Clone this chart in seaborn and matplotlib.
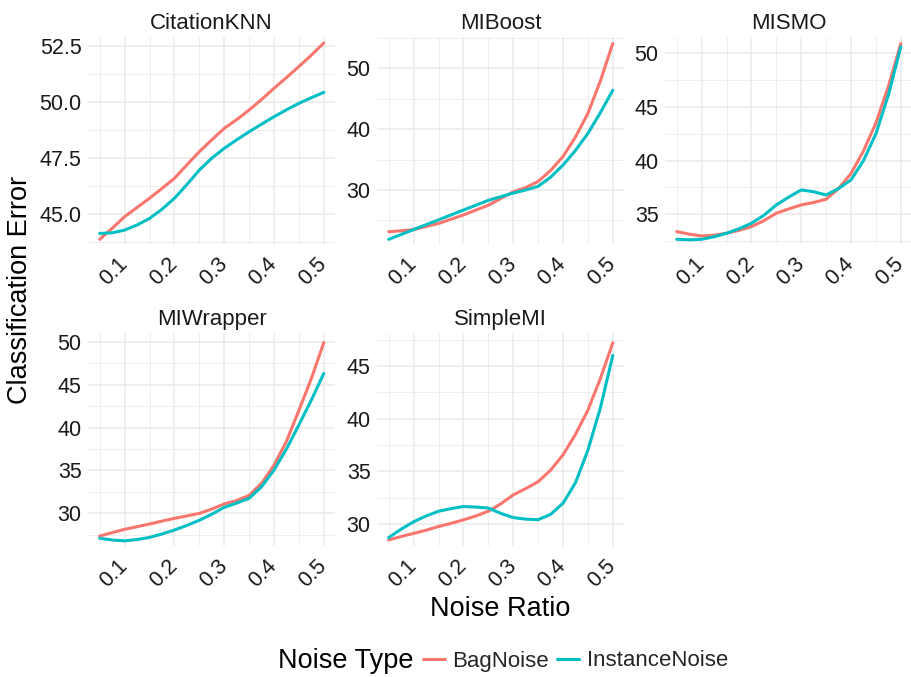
import numpy as np
import pandas as pd
import matplotlib
matplotlib.use("Agg")
import matplotlib.pyplot as plt
from matplotlib.lines import Line2D
from matplotlib.ticker import FixedLocator, FormatStrFormatter
import seaborn as sns

# ---------------- data ----------------
noise_ratio = [0.05, 0.075, 0.1, 0.125, 0.15, 0.175, 0.2, 0.225, 0.25, 0.275,
               0.3, 0.325, 0.35, 0.375, 0.4, 0.425, 0.45, 0.475, 0.5]

citationknn_bag = [43.86, 44.35, 44.87, 45.28, 45.69, 46.13, 46.58, 47.18, 47.77, 48.30,
                   48.81, 49.20, 49.63, 50.10, 50.60, 51.08, 51.57, 52.08, 52.62]
citationknn_inst = [44.12, 44.15, 44.27, 44.50, 44.79, 45.20, 45.69, 46.30, 46.95, 47.48,
                    47.92, 48.30, 48.66, 49.00, 49.33, 49.64, 49.93, 50.18, 50.42]

miboost_bag = [23.15, 23.3, 23.5, 24.0, 24.5, 25.2, 25.9, 26.7, 27.5, 28.6,
               29.7, 30.4, 31.4, 33.2, 35.5, 38.7, 42.6, 47.9, 54.1]
miboost_inst = [21.9, 22.7, 23.5, 24.3, 25.1, 25.9, 26.7, 27.5, 28.3, 28.9,
                29.5, 30.0, 30.6, 32.1, 34.1, 36.5, 39.3, 42.7, 46.4]

mismo_bag = [33.39, 33.15, 32.98, 33.05, 33.23, 33.5, 33.85, 34.4, 35.1, 35.5,
             35.87, 36.1, 36.4, 37.4, 38.8, 40.9, 43.5, 46.9, 50.9]
mismo_inst = [32.67, 32.62, 32.67, 32.9, 33.23, 33.65, 34.16, 34.9, 35.87, 36.6,
              37.27, 37.1, 36.8, 37.4, 38.2, 40.0, 42.5, 46.1, 50.6]

miwrapper_bag = [27.36, 27.76, 28.14, 28.45, 28.76, 29.1, 29.42, 29.7, 30.0, 30.5,
                 31.1, 31.5, 32.1, 33.5, 35.6, 38.4, 42.0, 45.7, 49.9]
miwrapper_inst = [27.1, 26.9, 26.8, 26.95, 27.2, 27.6, 28.06, 28.6, 29.2, 29.9,
                  30.7, 31.2, 31.75, 33.1, 35.05, 37.5, 40.3, 43.2, 46.3]

simplemi_bag = [28.48, 28.8, 29.1, 29.4, 29.75, 30.05, 30.38, 30.75, 31.2, 31.9,
                32.75, 33.35, 34.0, 35.1, 36.55, 38.5, 40.8, 43.8, 47.2]
simplemi_inst = [28.7, 29.5, 30.2, 30.75, 31.2, 31.45, 31.65, 31.6, 31.5, 31.0,
                 30.6, 30.45, 30.4, 30.9, 31.96, 33.9, 37.0, 41.0, 46.0]

classifiers = ["CitationKNN", "MIBoost", "MISMO", "MIWrapper", "SimpleMI"]
noise_types = ["BagNoise", "InstanceNoise"]
series = {
    "CitationKNN": (citationknn_bag, citationknn_inst),
    "MIBoost": (miboost_bag, miboost_inst),
    "MISMO": (mismo_bag, mismo_inst),
    "MIWrapper": (miwrapper_bag, miwrapper_inst),
    "SimpleMI": (simplemi_bag, simplemi_inst),
}
x_ticks = [0.1, 0.2, 0.3, 0.4, 0.5]
x_tick_labels = ["0.1", "0.2", "0.3", "0.4", "0.5"]

rows = []
for clf in classifiers:
    for nt, vals in zip(noise_types, series[clf]):
        for r, v in zip(noise_ratio, vals):
            rows.append({"Classifier": clf, "Noise Type": nt, "Noise Ratio": r,
                         "Classification Error": v})
df = pd.DataFrame(rows)

# ---------------- styling ----------------
sns.set_theme(style="white")
plt.rcParams["font.family"] = ["Liberation Sans", "DejaVu Sans"]
palette = {"BagNoise": "#F8766D", "InstanceNoise": "#00BFC4"}

W, H = 912, 677
fig = plt.figure(figsize=(W / 100, H / 100), dpi=100)
fig.patch.set_facecolor("white")

# panel boxes in pixels: (left, top, right, bottom)
boxes = {
    "CitationKNN": (88.5, 37, 335, 244),
    "MIBoost": (377.5, 37, 624, 244),
    "MISMO": (665.5, 37, 912, 244),
    "MIWrapper": (88.5, 333, 335, 546),
    "SimpleMI": (377.5, 333, 624, 546),
}
ylims = {
    "CitationKNN": (43.65, 52.89),
    "MIBoost": (21.13, 55.14),
    "MISMO": (32.23, 51.52),
    "MIWrapper": (26.2, 51.01),
    "SimpleMI": (27.9, 48.13),
}
yticks = {
    "CitationKNN": [45.0, 47.5, 50.0, 52.5],
    "MIBoost": [30, 40, 50],
    "MISMO": [35, 40, 45, 50],
    "MIWrapper": [30, 35, 40, 45, 50],
    "SimpleMI": [30, 35, 40, 45],
}
ymin_minor = {
    "CitationKNN": [43.75, 46.25, 48.75, 51.25],
    "MIBoost": [25, 35, 45, 55],
    "MISMO": [32.5, 37.5, 42.5, 47.5],
    "MIWrapper": [27.5, 32.5, 37.5, 42.5, 47.5],
    "SimpleMI": [27.5, 32.5, 37.5, 42.5, 47.5],
}
yfmt = {"CitationKNN": "%.1f"}

text_col = "#1a1a1a"
grid_col = "#ebebeb"

for clf in classifiers:
    l, t, r, b = boxes[clf]
    ax = fig.add_axes([l / W, 1 - b / H, (r - l) / W, (b - t) / H])
    sub = df[df["Classifier"] == clf]
    sns.lineplot(data=sub, x="Noise Ratio", y="Classification Error", hue="Noise Type",
                 hue_order=noise_types, palette=palette, ax=ax, legend=False,
                 linewidth=2.2, estimator=None, sort=True)
    ax.set_xlim(0.0275, 0.5225)
    ax.set_ylim(*ylims[clf])
    ax.set_xticks(x_ticks)
    ax.set_xticklabels(x_tick_labels)
    ax.xaxis.set_minor_locator(FixedLocator([0.05, 0.15, 0.25, 0.35, 0.45]))
    ax.set_yticks(yticks[clf])
    ax.yaxis.set_minor_locator(FixedLocator(ymin_minor[clf]))
    if clf in yfmt:
        ax.yaxis.set_major_formatter(FormatStrFormatter(yfmt[clf]))
    ax.grid(True, which="major", color=grid_col, linewidth=1.1)
    ax.grid(True, which="minor", color=grid_col, linewidth=0.6)
    ax.set_axisbelow(True)
    for s in ax.spines.values():
        s.set_visible(False)
    ax.tick_params(axis="both", which="both", length=0, colors=text_col, labelsize=15.5)
    ax.tick_params(axis="y", pad=5)
    ax.tick_params(axis="x", pad=12)
    for lab in ax.get_xticklabels():
        lab.set_rotation(45)
        lab.set_rotation_mode("anchor")
        lab.set_ha("right")
        lab.set_va("center")
    ax.set_xlabel("")
    ax.set_ylabel("")
    ax.set_title(clf, fontsize=16, color=text_col, pad=6)

# axis titles
fig.text(20 / W, 1 - 290 / H, "Classification Error", rotation=90, ha="center", va="center",
         fontsize=19.5, color="black")
fig.text(500 / W, 1 - 609 / H, "Noise Ratio", ha="center", va="center",
         fontsize=19.5, color="black")

# legend
fig.text(278 / W, 1 - 661 / H, "Noise Type", ha="left", va="center", fontsize=19.5, color="black")
handles = [Line2D([0], [0], color=palette[n], linewidth=2.2) for n in noise_types]
fig.legend(handles, noise_types, loc="center left", bbox_to_anchor=(423 / W, 1 - 661 / H),
           ncol=2, frameon=False, fontsize=16, handlelength=1.0, handletextpad=0.33,
           columnspacing=0.35, borderaxespad=0, borderpad=0)

fig.savefig("out.png", dpi=100, facecolor="white")
